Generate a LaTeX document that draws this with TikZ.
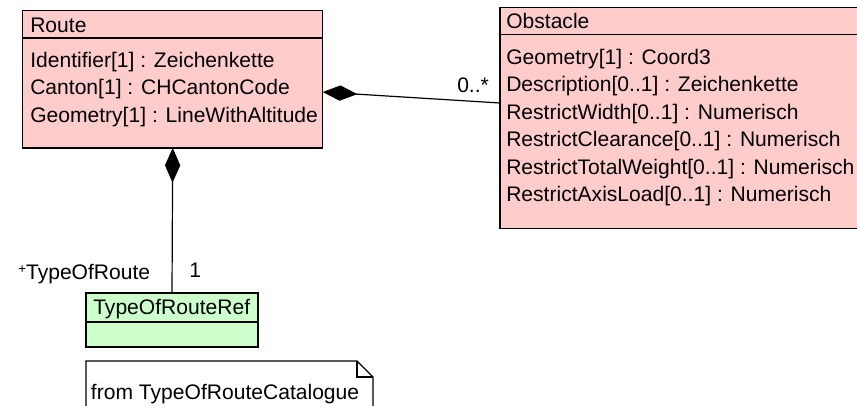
\documentclass[tikz,border=0pt]{standalone}
\usepackage{fontspec}
\setmainfont{Liberation Sans}
\usetikzlibrary{arrows.meta,positioning}
\definecolor{classpink}{HTML}{FFCCCC}
\definecolor{classgreen}{HTML}{CCFFCC}
\tikzset{>=Stealth,
	classbox/.style={draw=black,line width=1pt,inner sep=0pt,outer sep=0pt,anchor=north west},
	txt/.style={anchor=base west,inner sep=0pt,font=\fontsize{15.8}{18}\selectfont},
	comp/.style={draw=black,line width=0.9pt,{Diamond[length=26pt,width=11.5pt]}-}}

\begin{document}
\begin{tikzpicture}[x=0.75pt,y=-0.75pt]
	\clip (0,0) rectangle (857,405);
	\node (route) at (22.7,10.5) [classbox,fill=classpink,minimum width=300*0.75pt,minimum height=137.5*0.75pt] {};
	\node (obst) at (500,7.3) [classbox,fill=classpink,minimum width=420*0.75pt,minimum height=221.5*0.75pt] {};
	\node (typeref) at (86,293) [classbox,fill=classgreen,minimum width=172*0.75pt,minimum height=54*0.75pt] {};
	\draw[line width=1pt] (route.north west) ++(0,27.5) -- ++(300,0);
	\draw[line width=1pt] (obst.north west) ++(0,27) -- ++(420,0);
	\draw[line width=1pt] (typeref.north west) ++(0,29) -- ++(172,0);
	\node (routeT) at (30,32) [txt] {Route};
	\node (routeA1) at (30,67) [txt] {Identifier[1] : Zeichenkette};
	\node (routeA2) at (30,94.5) [txt] {Canton[1] : CHCantonCode};
	\node (routeA3) at (30,122) [txt] {Geometry[1] : LineWithAltitude};
	\node (obstT) at (506,28) [txt] {Obstacle};
	\node (obstA1) at (506,64) [txt] {Geometry[1] : Coord3};
	\node (obstA2) at (506,91.5) [txt] {Description[0..1] : Zeichenkette};
	\node (obstA3) at (506,119) [txt] {RestrictWidth[0..1] : Numerisch};
	\node (obstA4) at (506,146.5) [txt] {RestrictClearance[0..1] : Numerisch};
	\node (obstA5) at (506,174) [txt] {RestrictTotalWeight[0..1] : Numerisch};
	\node (obstA6) at (506,201.5) [txt] {RestrictAxisLoad[0..1] : Numerisch};
	\node (typerefT) at (93,314) [txt] {TypeOfRouteRef};
	\coordinate (routeE) at (322.7,92);
	\coordinate (obstW) at (500,103);
	\draw[comp] (routeE) -- (obstW);
	\draw[comp] (route.south) -- (typeref.north);
	\node (mult1) at (457,92) [txt] {0..*};
	\node (role) at (18,279) [txt] {\raisebox{4pt}{\fontsize{10}{10}\selectfont +}TypeOfRoute};
	\node (mult2) at (189,277) [txt] {1};
	\draw[line width=1pt,fill=white] (86,361) -- (357,361) -- (373,377) -- (373,420) -- (86,420) -- cycle;
	\draw[line width=1pt] (357,361) -- (357,377) -- (373,377);
	\node (note) at (90.7,399) [txt] {from TypeOfRouteCatalogue};
\end{tikzpicture}
\end{document}
